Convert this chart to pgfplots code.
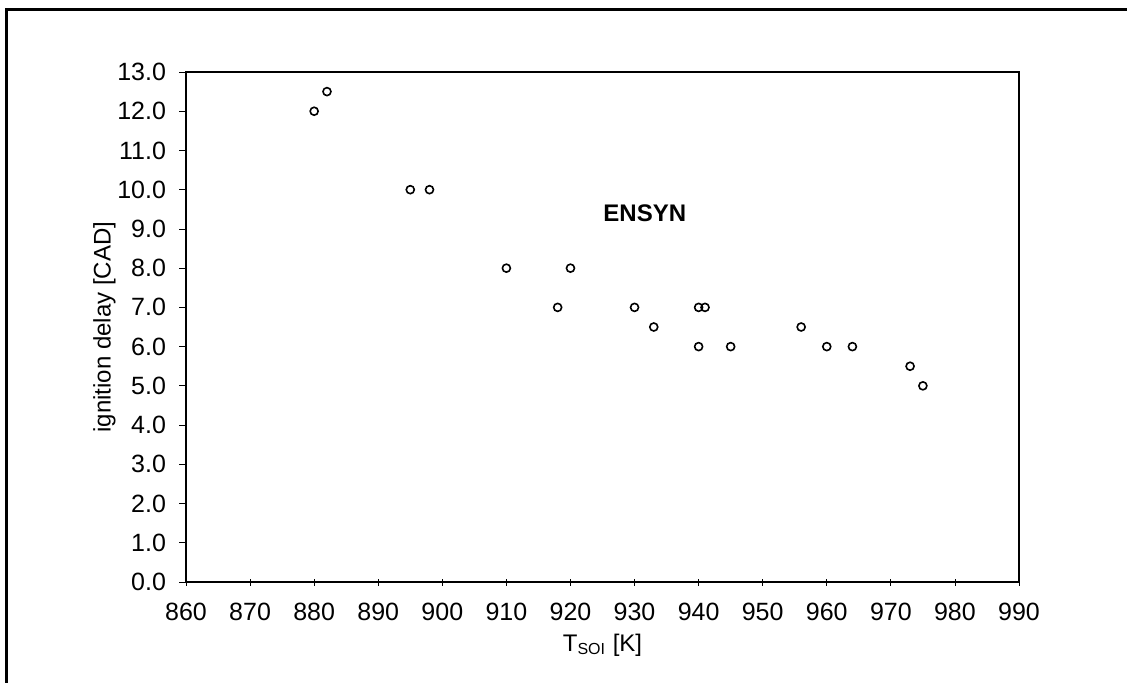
\documentclass[border=0pt]{standalone}
\usepackage{fontspec}
\setmainfont{Liberation Sans}
\usepackage{pgfplots}
\pgfplotsset{compat=1.18}
\pgfplotstableread{
x y
880 12.0
882 12.5
895 10.0
898 10.0
910 8.0
920 8.0
918 7.0
930 7.0
933 6.5
940 7.0
941 7.0
940 6.0
945 6.0
956 6.5
960 6.0
964 6.0
973 5.5
975 5.0
}\ensyn
\begin{document}
\begin{tikzpicture}
\useasboundingbox (0,0) rectangle (563.5pt,-341.5pt);
\draw[line width=1.5pt] (3.25pt,-341.5pt) -- (3.25pt,-4.75pt) -- (563.5pt,-4.75pt);
\begin{axis}[
  at={(93pt,-291pt)}, anchor=south west,
  width=416.5pt, height=255pt, scale only axis,
  xmin=860, xmax=990, ymin=0, ymax=13,
  xtick={860,870,...,990}, ytick={0,1,...,13},
  axis line style={line width=1pt},
  xtick pos=bottom, ytick pos=left,
  xtick align=center, ytick align=outside,
  major tick length=3.5pt,
  tick style={black, line width=0.4pt},
  /pgf/number format/assume math mode=true,
  yticklabel style={xshift=-3pt, /pgf/number format/.cd, fixed, fixed zerofill, precision=1},
  xticklabel style={yshift=-5pt, /pgf/number format/.cd, fixed, precision=0, 1000 sep={}},
  tick label style={font=\fontsize{12.5}{14}\selectfont},
  label style={font=\fontsize{12}{14}\selectfont},
  xlabel={T\textsubscript{SOI} [K]},
  xlabel style={yshift=0pt},
  ylabel={ignition delay [CAD]},
  ylabel style={yshift=-6pt},
  clip=false,
]
\addplot[only marks, mark=o, mark size=2pt, mark options={line width=0.8pt, black}] table[x=x, y=y] {\ensyn};
\node[font=\bfseries\fontsize{12}{14}\selectfont] at (axis cs:931.6,9.4) {ENSYN};
\end{axis}
\end{tikzpicture}
\end{document}
